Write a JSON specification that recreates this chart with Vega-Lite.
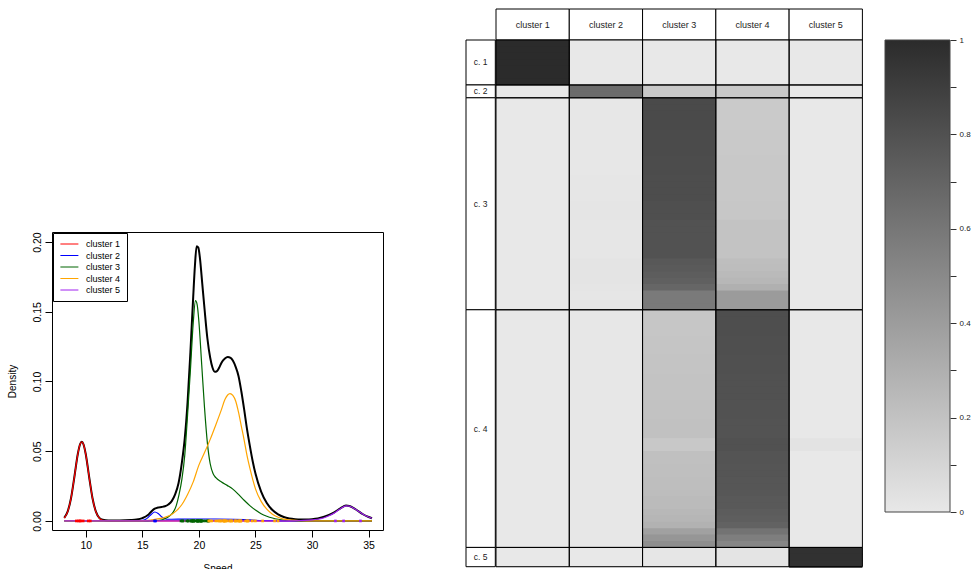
{
  "$schema": "https://vega.github.io/schema/vega-lite/v6.json",
  "padding": {"left": 6, "top": 8, "right": 0, "bottom": 0},
  "background": "white",
  "config": {
    "font": "Liberation Sans",
    "view": {"stroke": null},
    "axis": {"labelFont": "Liberation Sans", "titleFont": "Liberation Sans", "grid": false, "labelColor": "#000", "titleColor": "#000", "tickColor": "#000", "domainColor": "#000", "titleFontWeight": "normal"}
  },
  "datasets": {
    "total": [
      {"x":8.1,"y":0.0022},{"x":8.4,"y":0.0067},{"x":8.7,"y":0.0163},{"x":9.0,"y":0.0317},{"x":9.3,"y":0.048},{"x":9.5,"y":0.055},{"x":9.65,"y":0.0568},{"x":9.8,"y":0.055},{"x":10.0,"y":0.048},{"x":10.3,"y":0.0317},{"x":10.6,"y":0.0163},{"x":10.9,"y":0.0067},{"x":11.2,"y":0.0022},{"x":11.5,"y":0.0008},{"x":12.0,"y":0.0003},{"x":13.0,"y":0.0003},{"x":14.0,"y":0.0006},{"x":14.5,"y":0.001},{"x":15.0,"y":0.002},{"x":15.5,"y":0.0042},{"x":15.8,"y":0.0068},{"x":16.1,"y":0.0088},{"x":16.4,"y":0.0097},{"x":16.7,"y":0.01},{"x":17.0,"y":0.0105},{"x":17.3,"y":0.0118},{"x":17.6,"y":0.0142},{"x":17.9,"y":0.019},{"x":18.2,"y":0.027},{"x":18.5,"y":0.042},{"x":18.75,"y":0.059},{"x":19.0,"y":0.085},{"x":19.25,"y":0.121},{"x":19.5,"y":0.161},{"x":19.65,"y":0.183},{"x":19.8,"y":0.197},{"x":19.95,"y":0.196},{"x":20.1,"y":0.188},{"x":20.3,"y":0.17},{"x":20.5,"y":0.152},{"x":20.75,"y":0.131},{"x":21.0,"y":0.117},{"x":21.2,"y":0.11},{"x":21.4,"y":0.107},{"x":21.6,"y":0.1075},{"x":21.8,"y":0.11},{"x":22.0,"y":0.1135},{"x":22.3,"y":0.1165},{"x":22.55,"y":0.1176},{"x":22.8,"y":0.117},{"x":23.0,"y":0.115},{"x":23.25,"y":0.1105},{"x":23.5,"y":0.104},{"x":23.75,"y":0.093},{"x":24.0,"y":0.08},{"x":24.25,"y":0.066},{"x":24.5,"y":0.054},{"x":24.75,"y":0.043},{"x":25.0,"y":0.034},{"x":25.5,"y":0.021},{"x":26.0,"y":0.0128},{"x":26.5,"y":0.0078},{"x":27.0,"y":0.0047},{"x":27.5,"y":0.0028},{"x":28.0,"y":0.0018},{"x":28.5,"y":0.0013},{"x":29.0,"y":0.0011},{"x":29.5,"y":0.0011},{"x":30.0,"y":0.0013},{"x":30.5,"y":0.0018},{"x":31.0,"y":0.0028},{"x":31.5,"y":0.0043},{"x":32.0,"y":0.0064},{"x":32.5,"y":0.009},{"x":33.0,"y":0.011},{"x":33.3,"y":0.0107},{"x":33.6,"y":0.0096},{"x":34.0,"y":0.0075},{"x":34.5,"y":0.0048},{"x":35.0,"y":0.0028},{"x":35.3,"y":0.0019}
    ],
    "comp": [
      {"cl":"cluster 1","x":8.1,"y":0.002},{"cl":"cluster 1","x":8.4,"y":0.0065},{"cl":"cluster 1","x":8.7,"y":0.0162},{"cl":"cluster 1","x":9.0,"y":0.0316},{"cl":"cluster 1","x":9.3,"y":0.0479},{"cl":"cluster 1","x":9.5,"y":0.055},{"cl":"cluster 1","x":9.65,"y":0.0568},{"cl":"cluster 1","x":9.8,"y":0.055},{"cl":"cluster 1","x":10.0,"y":0.0479},{"cl":"cluster 1","x":10.3,"y":0.0316},{"cl":"cluster 1","x":10.6,"y":0.0162},{"cl":"cluster 1","x":10.9,"y":0.0065},{"cl":"cluster 1","x":11.2,"y":0.002},{"cl":"cluster 1","x":11.5,"y":0.0005},{"cl":"cluster 1","x":12.0,"y":0.0001},{"cl":"cluster 1","x":13.0,"y":0},{"cl":"cluster 1","x":35.3,"y":0},
      {"cl":"cluster 2","x":8.1,"y":0},{"cl":"cluster 2","x":13.5,"y":0},{"cl":"cluster 2","x":14.5,"y":0.0001},{"cl":"cluster 2","x":15.0,"y":0.0004},{"cl":"cluster 2","x":15.3,"y":0.0012},{"cl":"cluster 2","x":15.5,"y":0.0024},{"cl":"cluster 2","x":15.8,"y":0.0048},{"cl":"cluster 2","x":16.1,"y":0.0064},{"cl":"cluster 2","x":16.4,"y":0.0054},{"cl":"cluster 2","x":16.7,"y":0.003},{"cl":"cluster 2","x":17.0,"y":0.0016},{"cl":"cluster 2","x":17.3,"y":0.0012},{"cl":"cluster 2","x":17.6,"y":0.0012},{"cl":"cluster 2","x":18.5,"y":0.0013},{"cl":"cluster 2","x":20.0,"y":0.0014},{"cl":"cluster 2","x":21.5,"y":0.0014},{"cl":"cluster 2","x":23.0,"y":0.0012},{"cl":"cluster 2","x":24.0,"y":0.0009},{"cl":"cluster 2","x":25.0,"y":0.0005},{"cl":"cluster 2","x":26.0,"y":0.0002},{"cl":"cluster 2","x":27.0,"y":0.0001},{"cl":"cluster 2","x":28.0,"y":0},{"cl":"cluster 2","x":35.3,"y":0},
      {"cl":"cluster 3","x":8.1,"y":0},{"cl":"cluster 3","x":15.5,"y":0},{"cl":"cluster 3","x":16.5,"y":0.0005},{"cl":"cluster 3","x":17.0,"y":0.0016},{"cl":"cluster 3","x":17.5,"y":0.0042},{"cl":"cluster 3","x":17.75,"y":0.0065},{"cl":"cluster 3","x":18.0,"y":0.011},{"cl":"cluster 3","x":18.25,"y":0.019},{"cl":"cluster 3","x":18.5,"y":0.03},{"cl":"cluster 3","x":18.75,"y":0.047},{"cl":"cluster 3","x":19.0,"y":0.076},{"cl":"cluster 3","x":19.25,"y":0.108},{"cl":"cluster 3","x":19.5,"y":0.142},{"cl":"cluster 3","x":19.7,"y":0.158},{"cl":"cluster 3","x":19.85,"y":0.155},{"cl":"cluster 3","x":20.0,"y":0.143},{"cl":"cluster 3","x":20.25,"y":0.112},{"cl":"cluster 3","x":20.5,"y":0.081},{"cl":"cluster 3","x":20.75,"y":0.056},{"cl":"cluster 3","x":21.0,"y":0.041},{"cl":"cluster 3","x":21.25,"y":0.034},{"cl":"cluster 3","x":21.5,"y":0.031},{"cl":"cluster 3","x":22.0,"y":0.028},{"cl":"cluster 3","x":22.5,"y":0.0255},{"cl":"cluster 3","x":23.0,"y":0.0228},{"cl":"cluster 3","x":23.5,"y":0.019},{"cl":"cluster 3","x":24.0,"y":0.0148},{"cl":"cluster 3","x":24.5,"y":0.011},{"cl":"cluster 3","x":25.0,"y":0.0078},{"cl":"cluster 3","x":25.5,"y":0.0052},{"cl":"cluster 3","x":26.0,"y":0.0034},{"cl":"cluster 3","x":26.5,"y":0.0021},{"cl":"cluster 3","x":27.0,"y":0.0012},{"cl":"cluster 3","x":27.5,"y":0.0006},{"cl":"cluster 3","x":28.0,"y":0.0003},{"cl":"cluster 3","x":29.0,"y":0},{"cl":"cluster 3","x":35.3,"y":0},
      {"cl":"cluster 4","x":8.1,"y":0},{"cl":"cluster 4","x":14.0,"y":0},{"cl":"cluster 4","x":15.0,"y":0.0002},{"cl":"cluster 4","x":15.5,"y":0.0005},{"cl":"cluster 4","x":16.0,"y":0.001},{"cl":"cluster 4","x":16.5,"y":0.0016},{"cl":"cluster 4","x":17.0,"y":0.0026},{"cl":"cluster 4","x":17.5,"y":0.0042},{"cl":"cluster 4","x":18.0,"y":0.0072},{"cl":"cluster 4","x":18.5,"y":0.0118},{"cl":"cluster 4","x":19.0,"y":0.019},{"cl":"cluster 4","x":19.5,"y":0.028},{"cl":"cluster 4","x":20.0,"y":0.04},{"cl":"cluster 4","x":20.5,"y":0.049},{"cl":"cluster 4","x":21.0,"y":0.0585},{"cl":"cluster 4","x":21.5,"y":0.069},{"cl":"cluster 4","x":22.0,"y":0.08},{"cl":"cluster 4","x":22.3,"y":0.087},{"cl":"cluster 4","x":22.75,"y":0.0913},{"cl":"cluster 4","x":23.0,"y":0.09},{"cl":"cluster 4","x":23.25,"y":0.086},{"cl":"cluster 4","x":23.5,"y":0.078},{"cl":"cluster 4","x":23.75,"y":0.068},{"cl":"cluster 4","x":24.0,"y":0.058},{"cl":"cluster 4","x":24.25,"y":0.047},{"cl":"cluster 4","x":24.5,"y":0.038},{"cl":"cluster 4","x":24.75,"y":0.03},{"cl":"cluster 4","x":25.0,"y":0.023},{"cl":"cluster 4","x":25.5,"y":0.014},{"cl":"cluster 4","x":26.0,"y":0.0084},{"cl":"cluster 4","x":26.5,"y":0.0048},{"cl":"cluster 4","x":27.0,"y":0.0026},{"cl":"cluster 4","x":27.5,"y":0.0013},{"cl":"cluster 4","x":28.0,"y":0.0007},{"cl":"cluster 4","x":29.0,"y":0.0002},{"cl":"cluster 4","x":30.0,"y":0},{"cl":"cluster 4","x":35.3,"y":0},
      {"cl":"cluster 5","x":8.1,"y":0},{"cl":"cluster 5","x":27.0,"y":0},{"cl":"cluster 5","x":28.0,"y":0.0001},{"cl":"cluster 5","x":29.0,"y":0.0003},{"cl":"cluster 5","x":30.0,"y":0.0007},{"cl":"cluster 5","x":30.5,"y":0.0012},{"cl":"cluster 5","x":31.0,"y":0.0021},{"cl":"cluster 5","x":31.5,"y":0.0037},{"cl":"cluster 5","x":32.0,"y":0.0059},{"cl":"cluster 5","x":32.5,"y":0.0087},{"cl":"cluster 5","x":33.0,"y":0.0108},{"cl":"cluster 5","x":33.3,"y":0.0106},{"cl":"cluster 5","x":33.6,"y":0.0095},{"cl":"cluster 5","x":34.0,"y":0.0075},{"cl":"cluster 5","x":34.5,"y":0.0048},{"cl":"cluster 5","x":35.0,"y":0.0028},{"cl":"cluster 5","x":35.3,"y":0.0019}
    ],
    "rug": [
      {"cl":"cluster 1","x":9.172},{"cl":"cluster 1","x":9.35},{"cl":"cluster 1","x":9.483},{"cl":"cluster 1","x":9.558},{"cl":"cluster 1","x":9.775},{"cl":"cluster 1","x":10.227},{"cl":"cluster 1","x":10.406},
      {"cl":"cluster 2","x":16.084},{"cl":"cluster 2","x":16.17},
      {"cl":"cluster 3","x":18.419},{"cl":"cluster 3","x":18.552},{"cl":"cluster 3","x":18.6},{"cl":"cluster 3","x":18.927},{"cl":"cluster 3","x":19.052},{"cl":"cluster 3","x":19.07},{"cl":"cluster 3","x":19.33},{"cl":"cluster 3","x":19.343},{"cl":"cluster 3","x":19.349},{"cl":"cluster 3","x":19.44},{"cl":"cluster 3","x":19.473},{"cl":"cluster 3","x":19.529},{"cl":"cluster 3","x":19.541},{"cl":"cluster 3","x":19.547},{"cl":"cluster 3","x":19.663},{"cl":"cluster 3","x":19.846},{"cl":"cluster 3","x":19.856},{"cl":"cluster 3","x":19.863},{"cl":"cluster 3","x":19.914},{"cl":"cluster 3","x":19.918},{"cl":"cluster 3","x":19.973},{"cl":"cluster 3","x":19.989},{"cl":"cluster 3","x":20.166},{"cl":"cluster 3","x":20.175},{"cl":"cluster 3","x":20.179},{"cl":"cluster 3","x":20.196},{"cl":"cluster 3","x":20.215},{"cl":"cluster 3","x":20.221},{"cl":"cluster 3","x":20.415},{"cl":"cluster 3","x":20.629},{"cl":"cluster 3","x":20.795},{"cl":"cluster 3","x":20.821},{"cl":"cluster 3","x":20.846},
      {"cl":"cluster 4","x":20.875},{"cl":"cluster 4","x":20.986},{"cl":"cluster 4","x":21.137},{"cl":"cluster 4","x":21.492},{"cl":"cluster 4","x":21.701},{"cl":"cluster 4","x":21.814},{"cl":"cluster 4","x":21.921},{"cl":"cluster 4","x":21.96},{"cl":"cluster 4","x":22.185},{"cl":"cluster 4","x":22.209},{"cl":"cluster 4","x":22.242},{"cl":"cluster 4","x":22.249},{"cl":"cluster 4","x":22.314},{"cl":"cluster 4","x":22.374},{"cl":"cluster 4","x":22.495},{"cl":"cluster 4","x":22.746},{"cl":"cluster 4","x":22.747},{"cl":"cluster 4","x":22.888},{"cl":"cluster 4","x":22.914},{"cl":"cluster 4","x":23.206},{"cl":"cluster 4","x":23.241},{"cl":"cluster 4","x":23.263},{"cl":"cluster 4","x":23.484},{"cl":"cluster 4","x":23.538},{"cl":"cluster 4","x":23.542},{"cl":"cluster 4","x":23.666},{"cl":"cluster 4","x":23.706},{"cl":"cluster 4","x":23.711},{"cl":"cluster 4","x":24.129},{"cl":"cluster 4","x":24.285},{"cl":"cluster 4","x":24.289},{"cl":"cluster 4","x":24.366},{"cl":"cluster 4","x":24.717},{"cl":"cluster 4","x":24.99},{"cl":"cluster 4","x":25.633},{"cl":"cluster 4","x":26.69},{"cl":"cluster 4","x":26.995},
      {"cl":"cluster 5","x":32.065},{"cl":"cluster 5","x":32.789},{"cl":"cluster 5","x":34.279}
    ],
    "obs": [
      {"lo":0,"hi":1,"c1":1,"c2":0,"c3":0,"c4":0,"c5":0},{"lo":1,"hi":2,"c1":1,"c2":0,"c3":0,"c4":0,"c5":0},{"lo":2,"hi":3,"c1":1,"c2":0,"c3":0,"c4":0,"c5":0},{"lo":3,"hi":4,"c1":1,"c2":0,"c3":0,"c4":0,"c5":0},{"lo":4,"hi":5,"c1":1,"c2":0,"c3":0,"c4":0,"c5":0},{"lo":5,"hi":6,"c1":1,"c2":0,"c3":0,"c4":0,"c5":0},{"lo":6,"hi":7,"c1":1,"c2":0,"c3":0,"c4":0,"c5":0},
      {"lo":7,"hi":8,"c1":0,"c2":0.66,"c3":0.17,"c4":0.17,"c5":0},{"lo":8,"hi":9,"c1":0,"c2":0.66,"c3":0.17,"c4":0.17,"c5":0},
      {"lo":9,"hi":10,"c1":0,"c2":0.005,"c3":0.835,"c4":0.16,"c5":0},{"lo":10,"hi":11,"c1":0,"c2":0.005,"c3":0.835,"c4":0.16,"c5":0},{"lo":11,"hi":12,"c1":0,"c2":0.005,"c3":0.835,"c4":0.16,"c5":0},{"lo":12,"hi":13,"c1":0,"c2":0.005,"c3":0.835,"c4":0.16,"c5":0},{"lo":13,"hi":14,"c1":0,"c2":0.005,"c3":0.835,"c4":0.16,"c5":0},
      {"lo":14,"hi":15,"c1":0,"c2":0.005,"c3":0.83,"c4":0.165,"c5":0},{"lo":15,"hi":16,"c1":0,"c2":0.005,"c3":0.83,"c4":0.165,"c5":0},{"lo":16,"hi":17,"c1":0,"c2":0.005,"c3":0.83,"c4":0.165,"c5":0},{"lo":17,"hi":18,"c1":0,"c2":0.005,"c3":0.83,"c4":0.165,"c5":0},
      {"lo":18,"hi":19,"c1":0,"c2":0.005,"c3":0.825,"c4":0.17,"c5":0},{"lo":19,"hi":20,"c1":0,"c2":0.005,"c3":0.825,"c4":0.17,"c5":0},{"lo":20,"hi":21,"c1":0,"c2":0.005,"c3":0.825,"c4":0.17,"c5":0},
      {"lo":21,"hi":22,"c1":0,"c2":0.01,"c3":0.82,"c4":0.17,"c5":0},{"lo":22,"hi":23,"c1":0,"c2":0.01,"c3":0.82,"c4":0.17,"c5":0},{"lo":23,"hi":24,"c1":0,"c2":0.01,"c3":0.82,"c4":0.17,"c5":0},{"lo":24,"hi":25,"c1":0,"c2":0.01,"c3":0.82,"c4":0.17,"c5":0},
      {"lo":25,"hi":26,"c1":0,"c2":0.015,"c3":0.81,"c4":0.175,"c5":0},{"lo":26,"hi":27,"c1":0,"c2":0.015,"c3":0.81,"c4":0.175,"c5":0},{"lo":27,"hi":28,"c1":0,"c2":0.015,"c3":0.81,"c4":0.175,"c5":0},
      {"lo":28,"hi":29,"c1":0,"c2":0.01,"c3":0.795,"c4":0.195,"c5":0},{"lo":29,"hi":30,"c1":0,"c2":0.01,"c3":0.795,"c4":0.195,"c5":0},{"lo":30,"hi":31,"c1":0,"c2":0.01,"c3":0.795,"c4":0.195,"c5":0},{"lo":31,"hi":32,"c1":0,"c2":0.01,"c3":0.795,"c4":0.195,"c5":0},{"lo":32,"hi":33,"c1":0,"c2":0.01,"c3":0.795,"c4":0.195,"c5":0},{"lo":33,"hi":34,"c1":0,"c2":0.01,"c3":0.795,"c4":0.195,"c5":0},
      {"lo":34,"hi":35,"c1":0,"c2":0.02,"c3":0.76,"c4":0.22,"c5":0},{"lo":35,"hi":36,"c1":0,"c2":0.02,"c3":0.75,"c4":0.23,"c5":0},{"lo":36,"hi":37,"c1":0,"c2":0.02,"c3":0.735,"c4":0.245,"c5":0},{"lo":37,"hi":38,"c1":0,"c2":0.02,"c3":0.72,"c4":0.26,"c5":0},{"lo":38,"hi":39,"c1":0,"c2":0.015,"c3":0.69,"c4":0.295,"c5":0},
      {"lo":39,"hi":40,"c1":0,"c2":0.01,"c3":0.58,"c4":0.41,"c5":0},{"lo":40,"hi":41,"c1":0,"c2":0.01,"c3":0.58,"c4":0.41,"c5":0},{"lo":41,"hi":42,"c1":0,"c2":0.01,"c3":0.58,"c4":0.41,"c5":0},
      {"lo":42,"hi":43,"c1":0,"c2":0.005,"c3":0.18,"c4":0.815,"c5":0},{"lo":43,"hi":44,"c1":0,"c2":0.005,"c3":0.18,"c4":0.815,"c5":0},{"lo":44,"hi":45,"c1":0,"c2":0.005,"c3":0.18,"c4":0.815,"c5":0},{"lo":45,"hi":46,"c1":0,"c2":0.005,"c3":0.18,"c4":0.815,"c5":0},
      {"lo":46,"hi":47,"c1":0,"c2":0.005,"c3":0.185,"c4":0.81,"c5":0},{"lo":47,"hi":48,"c1":0,"c2":0.005,"c3":0.185,"c4":0.81,"c5":0},{"lo":48,"hi":49,"c1":0,"c2":0.005,"c3":0.185,"c4":0.81,"c5":0},
      {"lo":49,"hi":50,"c1":0,"c2":0.005,"c3":0.19,"c4":0.805,"c5":0},{"lo":50,"hi":51,"c1":0,"c2":0.005,"c3":0.19,"c4":0.805,"c5":0},{"lo":51,"hi":52,"c1":0,"c2":0.005,"c3":0.19,"c4":0.805,"c5":0},
      {"lo":52,"hi":53,"c1":0,"c2":0.005,"c3":0.195,"c4":0.8,"c5":0},{"lo":53,"hi":54,"c1":0,"c2":0.005,"c3":0.195,"c4":0.8,"c5":0},{"lo":54,"hi":55,"c1":0,"c2":0.005,"c3":0.195,"c4":0.8,"c5":0},{"lo":55,"hi":56,"c1":0,"c2":0.005,"c3":0.195,"c4":0.8,"c5":0},
      {"lo":56,"hi":57,"c1":0,"c2":0.005,"c3":0.2,"c4":0.795,"c5":0},{"lo":57,"hi":58,"c1":0,"c2":0.005,"c3":0.2,"c4":0.795,"c5":0},{"lo":58,"hi":59,"c1":0,"c2":0.005,"c3":0.2,"c4":0.795,"c5":0},
      {"lo":59,"hi":60,"c1":0,"c2":0.005,"c3":0.205,"c4":0.79,"c5":0},{"lo":60,"hi":61,"c1":0,"c2":0.005,"c3":0.205,"c4":0.79,"c5":0},{"lo":61,"hi":62,"c1":0,"c2":0.005,"c3":0.205,"c4":0.79,"c5":0},
      {"lo":62,"hi":63,"c1":0,"c2":0.005,"c3":0.17,"c4":0.8,"c5":0.025},{"lo":63,"hi":64,"c1":0,"c2":0.005,"c3":0.17,"c4":0.8,"c5":0.025},
      {"lo":64,"hi":65,"c1":0,"c2":0.005,"c3":0.21,"c4":0.785,"c5":0},{"lo":65,"hi":66,"c1":0,"c2":0.005,"c3":0.21,"c4":0.785,"c5":0},
      {"lo":66,"hi":67,"c1":0,"c2":0.005,"c3":0.215,"c4":0.78,"c5":0},{"lo":67,"hi":68,"c1":0,"c2":0.005,"c3":0.215,"c4":0.78,"c5":0},
      {"lo":68,"hi":69,"c1":0,"c2":0.005,"c3":0.22,"c4":0.775,"c5":0},{"lo":69,"hi":70,"c1":0,"c2":0.005,"c3":0.22,"c4":0.775,"c5":0},
      {"lo":70,"hi":71,"c1":0,"c2":0.005,"c3":0.23,"c4":0.765,"c5":0},
      {"lo":71,"hi":72,"c1":0,"c2":0.005,"c3":0.24,"c4":0.755,"c5":0},{"lo":72,"hi":73,"c1":0,"c2":0.005,"c3":0.24,"c4":0.755,"c5":0},
      {"lo":73,"hi":74,"c1":0,"c2":0.005,"c3":0.255,"c4":0.74,"c5":0},{"lo":74,"hi":75,"c1":0,"c2":0.005,"c3":0.265,"c4":0.73,"c5":0},{"lo":75,"hi":76,"c1":0,"c2":0.005,"c3":0.285,"c4":0.71,"c5":0},
      {"lo":76,"hi":77,"c1":0,"c2":0.005,"c3":0.375,"c4":0.62,"c5":0},{"lo":77,"hi":78,"c1":0,"c2":0.005,"c3":0.435,"c4":0.56,"c5":0},{"lo":78,"hi":79,"c1":0,"c2":0.005,"c3":0.475,"c4":0.52,"c5":0},
      {"lo":79,"hi":80,"c1":0,"c2":0,"c3":0.01,"c4":0.02,"c5":0.97},{"lo":80,"hi":81,"c1":0,"c2":0,"c3":0.01,"c4":0.02,"c5":0.97},{"lo":81,"hi":82,"c1":0,"c2":0,"c3":0.01,"c4":0.02,"c5":0.97}
    ],
    "groups": [
      {"g":"c. 1","lo":0,"hi":7,"key":["c1","c2","c3","c4","c5"]},
      {"g":"c. 2","lo":7,"hi":9,"key":["c1","c2","c3","c4","c5"]},
      {"g":"c. 3","lo":9,"hi":42,"key":["c1","c2","c3","c4","c5"]},
      {"g":"c. 4","lo":42,"hi":79,"key":["c1","c2","c3","c4","c5"]},
      {"g":"c. 5","lo":79,"hi":82,"key":["c1","c2","c3","c4","c5"]}
    ],
    "header": [
      {"key":"c1","lab":"cluster 1"},{"key":"c2","lab":"cluster 2"},{"key":"c3","lab":"cluster 3"},{"key":"c4","lab":"cluster 4"},{"key":"c5","lab":"cluster 5"}
    ]
  },
  "resolve": {"scale": {"color": "independent", "stroke": "independent"}, "legend": {"color": "independent"}},
  "hconcat": [
    {
      "spacing": 0,
      "bounds": "flush",
      "resolve": {"scale": {"color": "independent"}, "legend": {"color": "independent"}},
      "vconcat": [
        {"width": 331, "height": 223, "data": {"values": [{"a": 0}]}, "mark": {"type": "point", "opacity": 0}},
        {
          "width": 331,
          "height": 298,
          "view": {"stroke": "#000", "strokeWidth": 1},
          "layer": [
            {
              "data": {"name": "total"},
              "mark": {"type": "line", "color": "#000", "strokeWidth": 2, "interpolate": "monotone"},
              "encoding": {
                "x": {"field": "x", "type": "quantitative", "scale": {"domain": [7.02, 36.27], "nice": false, "zero": false},
                      "axis": {"values": [10, 15, 20, 25, 30, 35], "tickSize": 7, "labelFontSize": 10.5, "labelPadding": 3, "domain": false, "title": "Speed", "titleFontSize": 10, "titlePadding": 13}},
                "y": {"field": "y", "type": "quantitative", "scale": {"domain": [-0.0065, 0.2072], "nice": false, "zero": false},
                      "axis": {"values": [0, 0.05, 0.1, 0.15, 0.2], "format": ".2f", "tickSize": 7, "labelFontSize": 10.5, "labelPadding": 3, "labelAngle": -90, "labelAlign": "center", "labelBaseline": "bottom", "domain": false, "title": "Density", "titleFontSize": 10, "titlePadding": 15}}
              }
            },
            {
              "data": {"name": "comp"},
              "mark": {"type": "line", "strokeWidth": 1.2, "interpolate": "monotone"},
              "encoding": {
                "x": {"field": "x", "type": "quantitative"},
                "y": {"field": "y", "type": "quantitative"},
                "color": {"field": "cl", "type": "nominal",
                  "scale": {"domain": ["cluster 1", "cluster 2", "cluster 3", "cluster 4", "cluster 5"], "range": ["#FF0000", "#0000FF", "#006400", "#FFA500", "#A020F0"]},
                  "legend": {"title": null, "orient": "top-left", "offset": 1, "strokeColor": "#000", "fillColor": "#fff", "padding": 6, "symbolType": "M-0.8,0H3.2", "symbolSize": 81, "symbolStrokeWidth": 1, "labelFontSize": 9, "labelFont": "Liberation Sans", "labelColor": "#000", "labelOffset": 17, "rowPadding": 1.5, "cornerRadius": 0}}
              }
            },
            {
              "data": {"name": "rug"},
              "mark": {"type": "point", "shape": "square", "filled": true, "size": 7, "opacity": 1},
              "encoding": {
                "x": {"field": "x", "type": "quantitative"},
                "y": {"datum": 0, "type": "quantitative"},
                "color": {"field": "cl", "type": "nominal"}
              }
            }
          ]
        }
      ]
    },
    {
      "columns": 4,
      "spacing": 0,
      "bounds": "flush",
      "concat": [
        {"width": 29.3, "height": 31, "data": {"values": [{"a": 0}]}, "mark": {"type": "point", "opacity": 0}},
        {
          "width": 366.4,
          "height": 31,
          "data": {"name": "header"},
          "encoding": {
            "x": {"field": "key", "type": "nominal", "scale": {"domain": ["c1", "c2", "c3", "c4", "c5"], "paddingInner": 0, "paddingOuter": 0}, "axis": null}
          },
          "layer": [
            {"mark": {"type": "rect", "fill": "#fff", "stroke": "#000", "strokeWidth": 1},
             "encoding": {"y": {"datum": 0, "type": "quantitative", "scale": {"domain": [0, 1]}, "axis": null}, "y2": {"datum": 1}}},
            {"mark": {"type": "text", "fontSize": 9, "font": "Liberation Sans", "color": "#222"},
             "encoding": {"text": {"field": "lab"}}}
          ]
        },
        {"width": 21.6, "height": 31, "data": {"values": [{"a": 0}]}, "mark": {"type": "point", "opacity": 0}},
        {"width": 65, "height": 31, "data": {"values": [{"a": 0}]}, "mark": {"type": "point", "opacity": 0}},
        {
          "width": 29.3,
          "height": 526.7,
          "data": {"name": "groups"},
          "layer": [
            {"mark": {"type": "rect", "fill": "#fff", "stroke": "#000", "strokeWidth": 1},
             "encoding": {
               "x": {"datum": 0, "type": "quantitative", "scale": {"domain": [0, 1]}, "axis": null}, "x2": {"datum": 1},
               "y": {"field": "lo", "type": "quantitative", "scale": {"domain": [0, 82], "reverse": true, "nice": false, "zero": false}, "axis": null},
               "y2": {"field": "hi"}}},
            {"transform": [
               {"fold": ["lo", "hi"], "as": ["edge", "v"]},
               {"aggregate": [{"op": "mean", "field": "v", "as": "mid"}], "groupby": ["g"]}
             ],
             "mark": {"type": "text", "fontSize": 8.5, "font": "Liberation Sans", "color": "#222"},
             "encoding": {
               "x": {"datum": 0.5, "type": "quantitative"},
               "y": {"field": "mid", "type": "quantitative"},
               "text": {"field": "g"}}}
          ]
        },
        {
          "width": 366.4,
          "height": 526.7,
          "layer": [
            {
              "data": {"name": "obs"},
              "transform": [{"fold": ["c1", "c2", "c3", "c4", "c5"], "as": ["key", "p"]}],
              "mark": {"type": "rect", "y2Offset": 1},
              "encoding": {
                "x": {"field": "key", "type": "nominal", "scale": {"domain": ["c1", "c2", "c3", "c4", "c5"], "paddingInner": 0, "paddingOuter": 0}, "axis": null},
                "y": {"field": "lo", "type": "quantitative", "scale": {"domain": [0, 82], "reverse": true, "nice": false, "zero": false}, "axis": null},
                "y2": {"field": "hi"},
                "color": {"field": "p", "type": "quantitative", "scale": {"domain": [0, 1], "range": ["#e8e8e8", "#2b2b2b"], "interpolate": "rgb"}, "legend": null}
              }
            },
            {
              "data": {"name": "groups"},
              "transform": [{"flatten": ["key"]}],
              "mark": {"type": "rect", "fill": null, "fillOpacity": 0, "stroke": "#000", "strokeWidth": 1},
              "encoding": {
                "x": {"field": "key", "type": "nominal"},
                "y": {"field": "lo", "type": "quantitative"},
                "y2": {"field": "hi"}
              }
            }
          ]
        },
        {"width": 21.6, "height": 526.7, "data": {"values": [{"a": 0}]}, "mark": {"type": "point", "opacity": 0}},
        {
          "width": 65,
          "height": 472,
          "data": {"values": [{"lo": 0, "hi": 1}]},
          "mark": {"type": "rect", "stroke": "#444", "strokeWidth": 1,
                   "fill": {"gradient": "linear", "x1": 0, "y1": 1, "x2": 0, "y2": 0, "stops": [{"offset": 0, "color": "#e8e8e8"}, {"offset": 1, "color": "#2b2b2b"}]}},
          "encoding": {
            "x": {"datum": 0, "type": "quantitative", "scale": {"domain": [0, 1]}, "axis": null},
            "x2": {"datum": 1},
            "y": {"field": "lo", "type": "quantitative", "scale": {"domain": [0, 1], "nice": false},
                  "axis": {"orient": "right", "values": [0, 0.1, 0.2, 0.3, 0.4, 0.5, 0.6, 0.7, 0.8, 0.9, 1], "format": "~g",
                           "labelExpr": "round(datum.value*10)%2==0 ? datum.label : ''", "tickSize": 6, "tickColor": "#333", "domain": false,
                           "labelFontSize": 8, "labelPadding": 3, "labelColor": "#222", "title": null}},
            "y2": {"field": "hi"}
          }
        }
      ]
    }
  ],
  "spacing": 81,
  "bounds": "full"
}
